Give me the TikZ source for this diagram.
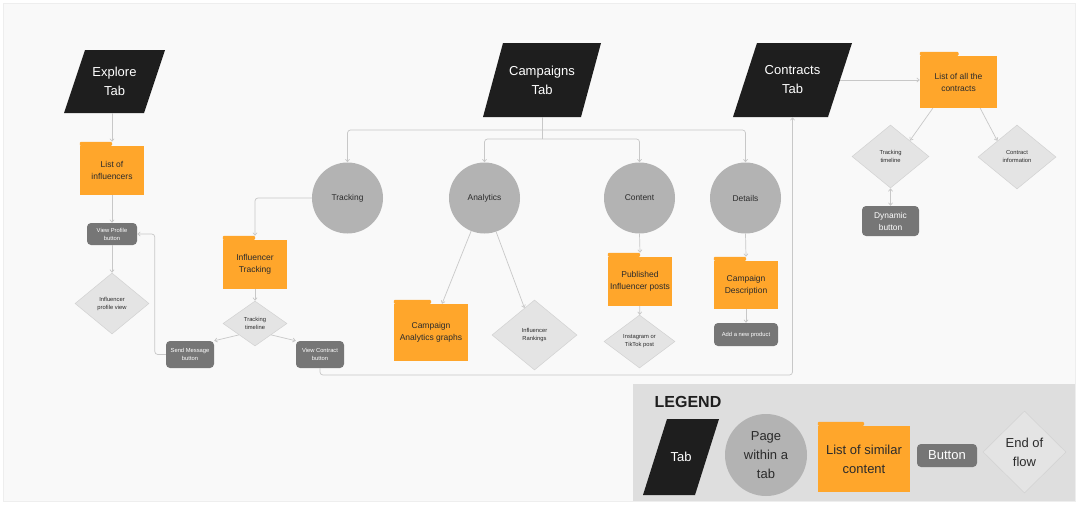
\documentclass[tikz,border=0pt]{standalone}
\usepackage{fontspec}
\setmainfont{Liberation Sans}
\usetikzlibrary{shapes.geometric,arrows.meta,positioning,calc}

\definecolor{tabblack}{HTML}{1E1E1E}
\definecolor{pagegrey}{HTML}{B3B3B3}
\definecolor{folderorange}{HTML}{FFA62B}
\definecolor{btngrey}{HTML}{767676}
\definecolor{endfill}{HTML}{E4E4E4}
\definecolor{endline}{HTML}{D2D2D2}
\definecolor{linkgrey}{HTML}{C8C8C8}
\definecolor{panelbg}{HTML}{F9F9F9}
\definecolor{panelline}{HTML}{EEEEEE}
\definecolor{legendbg}{HTML}{DEDEDE}
\definecolor{textdark}{HTML}{2B2B2B}
\newcommand{\fsz}[2]{\fontsize{#1}{#2}\selectfont}

\begin{document}
\begin{tikzpicture}[x=1pt, y=-1pt,
  tab/.style={rectangle, text=white, align=center, inner sep=0pt, font=\fsz{13}{19},
    path picture={\fill[tabblack] ([xshift=#1]path picture bounding box.north west)
      -- (path picture bounding box.north east) -- ([xshift=-#1]path picture bounding box.south east)
      -- (path picture bounding box.south west) -- cycle;}},
  page/.style={circle, fill=pagegrey, text=textdark, minimum size=71, inner sep=0pt, align=center, font=\fsz{8.4}{12}},
  folder/.style 2 args={rectangle, fill=folderorange, text=textdark, align=center, minimum width=#1, minimum height=#2,
    inner sep=0pt, font=\fsz{8.5}{12},
    append after command={\pgfextra{\fill[folderorange, rounded corners=1pt] (\tikzlastnode.north west) rectangle ([yshift=4pt]\tikzlastnode.north);}}},
  button/.style 2 args={rectangle, rounded corners=4pt, fill=btngrey, text=white, align=center,
    minimum width=#1, minimum height=#2, inner sep=0pt, font=\fsz{5.8}{8}},
  endflow/.style 2 args={diamond, fill=endfill, draw=endline, line width=0.5pt, text=textdark, align=center,
    minimum width=#1, minimum height=#2, inner sep=0pt, font=\fsz{5.8}{8}},
  link/.style={draw=linkgrey, line width=0.7pt, rounded corners=3pt},
  flow/.style={link, -{Straight Barb[length=2.5pt, width=4pt]}},
  flowboth/.style={link, {Straight Barb[length=2.5pt, width=4pt]}-{Straight Barb[length=2.5pt, width=4pt]}},
]
\useasboundingbox (0,0) rectangle (1078,506);
\fill[white] (0,0) rectangle (1078,506);
\filldraw[fill=panelbg, draw=panelline] (3,3) rectangle (1075,501);
\fill[legendbg] (633,384) rectangle (1075,501);

% tabs
\node[tab=21, minimum width=101, minimum height=63] (explore) at (114.5,81.5) {Explore\\Tab};
\node[tab=20, minimum width=118, minimum height=74] (campaigns) at (542,80) {Campaigns\\Tab};
\node[tab=24, minimum width=119, minimum height=74] (contracts) at (792.5,80) {Contracts\\Tab};

% explore tab
\node[folder={64}{49}] (influencers) at (112,170.5) {List of\\influencers};
\node[button={50}{22}] (viewprofile) at (112,234) {View Profile\\button};
\node[endflow={74}{61}] (profileview) at (112,303.5) {Influencer\\profile view};

% campaigns tab
\node[page] (tracking) at (347.5,198) {Tracking};
\node[folder={64}{49}] (inftracking) at (255,264.5) {Influencer\\Tracking};
\node[endflow={64}{45}] (timeline) at (255,323.5) {Tracking\\timeline};
\node[button={48}{27}] (sendmsg) at (190,354.5) {Send Message\\button};
\node[button={48}{27}] (viewcontract) at (320,354.5) {View Contract\\button};

\node[page] (analytics) at (484.5,198) {Analytics};
\node[folder={74}{57}] (graphs) at (431,332.5) {Campaign\\Analytics graphs};
\node[endflow={85}{70}] (rankings) at (534.5,335) {Influencer\\Rankings};

\node[page] (content) at (639.5,198) {Content};
\node[folder={64}{49}] (posts) at (640,281.5) {Published\\Influencer posts};
\node[endflow={71}{53}] (igpost) at (639.5,341.5) {Instagram or\\TikTok post};

\node[page] (details) at (745.5,198) {Details};
\node[folder={64}{48}] (description) at (746,285) {Campaign\\Description};
\node[button={64}{23}] (addproduct) at (746,334.5) {Add a new product};

% contracts tab
\node[folder={77}{52}] (contractlist) at (958.5,82) {List of all the\\contracts};
\node[endflow={77}{63}] (ctimeline) at (890.5,156.5) {Tracking\\timeline};
\node[endflow={78}{64}] (cinfo) at (1017,157) {Contract\\information};
\node[button={57}{30}, font=\fsz{8.4}{12}] (dynamic) at (890.5,221) {Dynamic\\button};

% legend
\node[font=\bfseries\fsz{16}{19}, text=tabblack] (legend) at (688,402) {LEGEND};
\node[tab=24, minimum width=76, minimum height=76] (ltab) at (681,457) {Tab};
\node[page, minimum size=82, font=\fsz{13}{19}] (lpage) at (766,455) {Page\\within a\\tab};
\node[folder={92}{66}, font=\fsz{13}{19}] (llist) at (864,459) {List of similar\\content};
\node[button={60}{23}, font=\fsz{13}{19}] (lbutton) at (947,455.5) {Button};
\node[endflow={83}{82}, font=\fsz{13}{19}] (lend) at (1024.5,452) {End of\\flow};

% connectors
\draw[flow] (explore.south -| influencers.north) -- ([yshift=4pt]influencers.north);
\draw[flow] (influencers) -- (viewprofile);
\draw[flow] (viewprofile) -- (profileview);
\draw[flow] (sendmsg.west) -- ++(-11,0) |- (viewprofile.east);

\coordinate (outer) at (542,130);
\coordinate (inner) at (542,139);
\draw[link] (campaigns.south -| inner) -- (inner);
\draw[flow] (outer) -| (tracking.north);
\draw[flow] (outer) -| (details.north);
\draw[flow] (inner) -| (analytics.north);
\draw[flow] (inner) -| (content.north);

\draw[flow] (tracking.west) -| ([yshift=4pt]inftracking.north);
\draw[flow] (inftracking) -- (timeline);
\draw[flow] (timeline.south west) -- (sendmsg.north east);
\draw[flow] (timeline.south east) -- (viewcontract.north west);
\coordinate (back) at (792.5,375);
\draw[flow] (viewcontract.south) |- (back) -- (contracts.south);

\draw[flow] (analytics.248) -- ([xshift=11pt]graphs.north);
\draw[flow] (analytics.289) -- (rankings);
\draw[flow] (content.south) -- ([yshift=4pt]posts.north);
\draw[flow] (posts) -- (igpost);
\draw[flow] (details.south) -- ([yshift=4pt]description.north);
\draw[flow] (description) -- (addproduct);

\draw[flow] ([xshift=-12pt]contracts.east) -- (contracts.east -| contractlist.west);
\draw[flow] ([xshift=13pt]contractlist.south west) -- (ctimeline.north east);
\draw[flow] ([xshift=-17pt]contractlist.south east) -- (cinfo.north west);
\draw[flowboth] (ctimeline) -- (dynamic);
\end{tikzpicture}
\end{document}
